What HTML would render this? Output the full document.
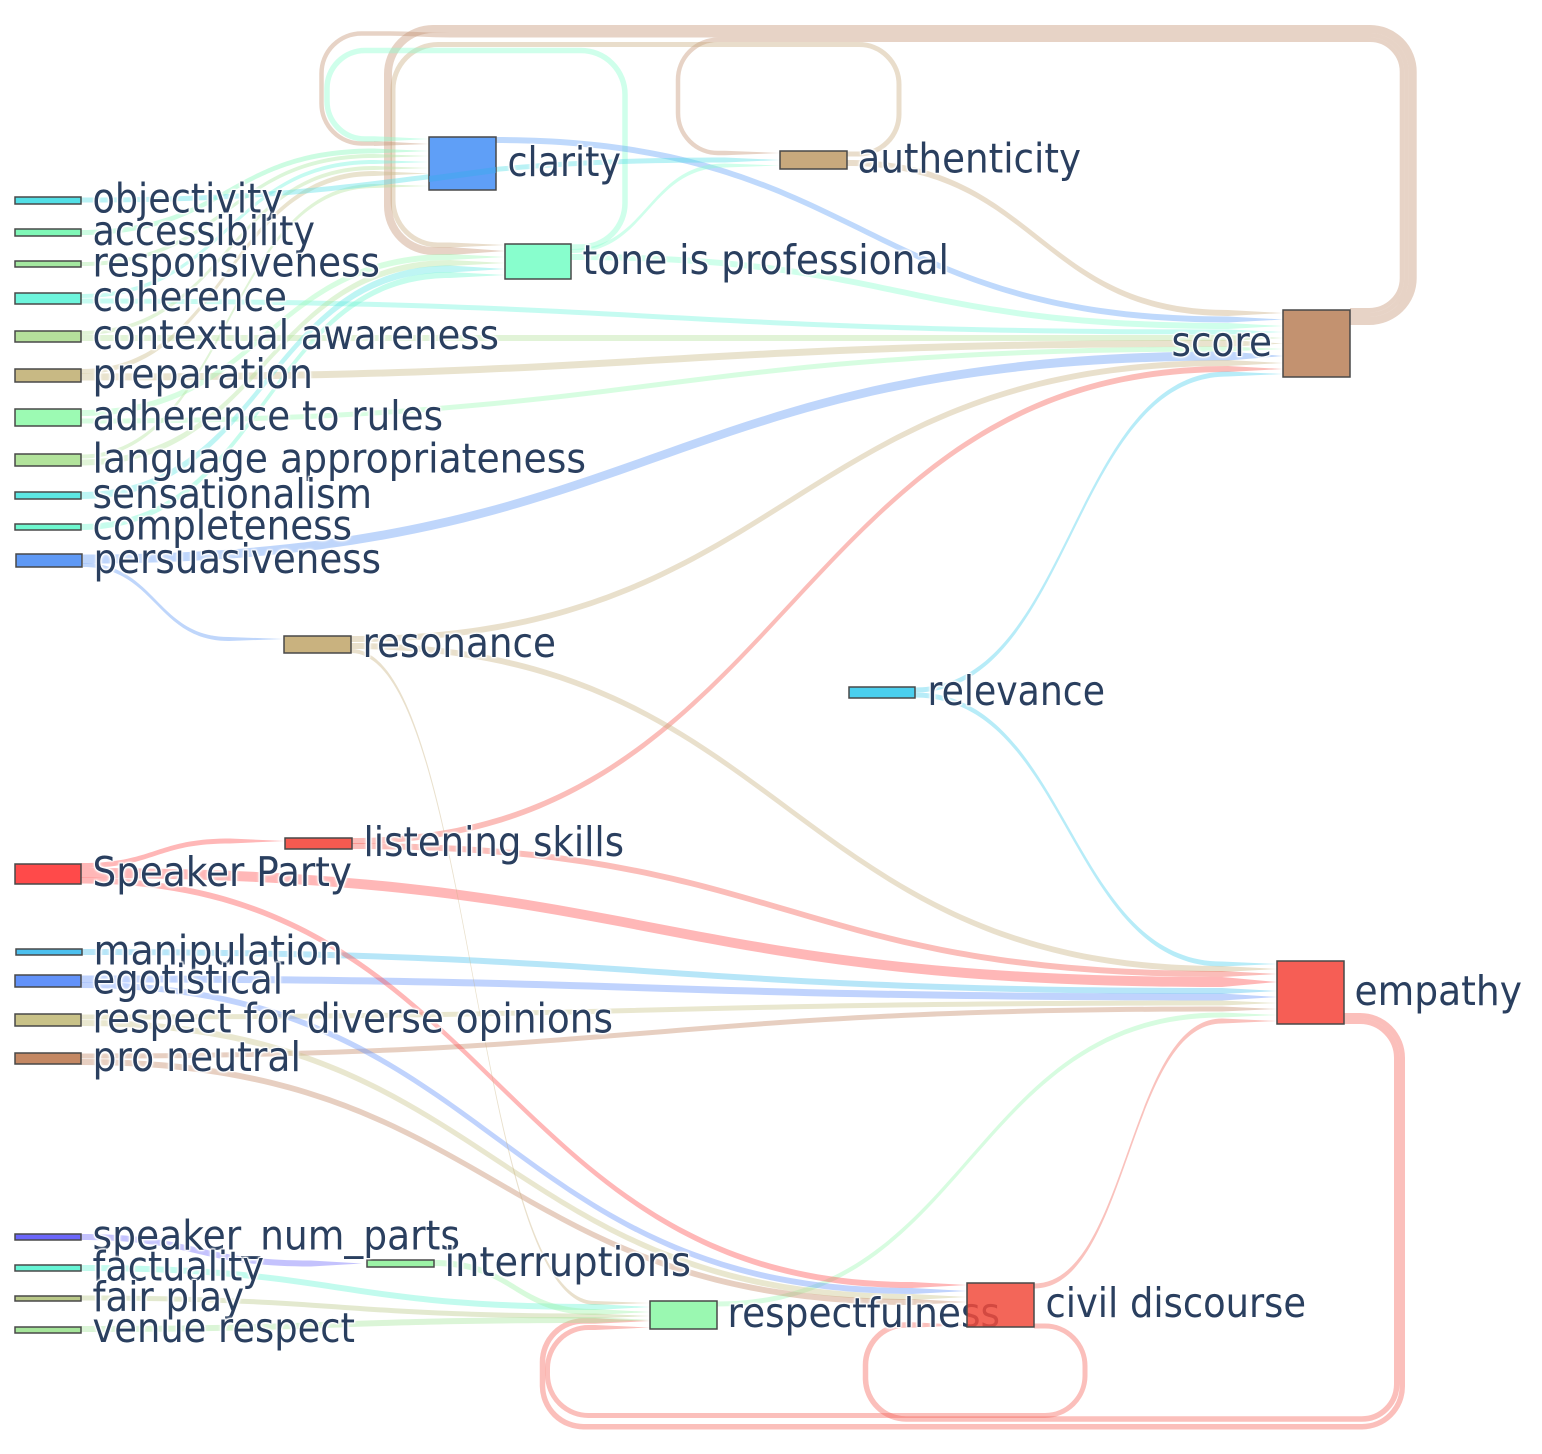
<!DOCTYPE html>
<html><head><meta charset="utf-8"><style>
html,body{margin:0;padding:0;background:#fff}
svg{display:block}
text{font-family:"DejaVu Sans","Liberation Sans",sans-serif;font-size:41px;fill:#2a3f5f;text-shadow:1px 1px 1px #fff,-1px -1px 1px #fff,1px -1px 1px #fff,-1px 1px 1px #fff,0 0 4px #fff,0 0 4px #fff}
.l{fill-opacity:.4}
.s{fill:none;stroke-opacity:.4}
rect{stroke:#484848;stroke-width:1.5}
</style></head><body>
<svg width="1542" height="1454" viewBox="0 0 1542 1454" xmlns="http://www.w3.org/2000/svg">
<!-- loops -->
<g class="s" stroke="#c39270">
<path stroke-width="8" d="M1350 321H1369A43.7 42.7 0 0 0 1412.7 278.3V71.7A42.7 42.7 0 0 0 1370 29H433A45 45 0 0 0 388 74V206A45 45 0 0 0 433 251H450"/>
<path stroke-width="4.5" d="M1350 314.75H1369A37.45 36.45 0 0 0 1406.45 278.3V71.7A36.45 36.45 0 0 0 1370 35.25H450C420 35.25 420 33.5 390 33.5H361.5A40 40 0 0 0 321.5 73.5V103.5A40 40 0 0 0 361.5 143.5H374"/>
<path stroke-width="4.5" d="M1350 310.25H1369A32.95 31.95 0 0 0 1401.95 278.3V71.7A31.95 31.95 0 0 0 1370 39.75H718A40 40 0 0 0 678 79.75V113A40 40 0 0 0 718 153H725"/>
</g>
<path class="s" stroke="#c8a97d" stroke-width="5" d="M847 154H859A40 40 0 0 0 899 114V84.5A40 40 0 0 0 859 44.5H438A45 45 0 0 0 393 89.5V200A45 45 0 0 0 438 245H450"/>
<path class="s" stroke="#88fecd" stroke-width="5.5" d="M571 247H581A44 44 0 0 0 625 203V94.5A44 44 0 0 0 581 50.5H365A38 38 0 0 0 327 88.5V101A38 38 0 0 0 365 139H374"/>
<g class="s" stroke="#f65e55">
<path stroke-width="5.5" d="M1344 1015.75H1360A42.25 42.25 0 0 1 1402.25 1058V1386.5A40.25 40.25 0 0 1 1362 1426.7H584A41 41 0 0 1 542.5 1386V1362A41 41 0 0 1 584 1321H595"/>
<path stroke-width="5.5" d="M1344 1021.25H1360A36.75 36.75 0 0 1 1396.75 1058V1384A35 35 0 0 1 1361.75 1419H906A41 41 0 0 1 865.5 1379V1365A40 40 0 0 1 906 1325H912"/>
<path stroke-width="5" d="M1034 1326H1045A40 40 0 0 1 1085 1366V1376A40 40 0 0 1 1045 1415.5H589A41 41 0 0 1 547.5 1375V1368A41 41 0 0 1 589 1327.5H595"/>
</g>
<!-- loop tips -->
<g class="l">
<path fill="#c39270" d="M450 247L505 251L450 255Z"/>
<path fill="#c39270" d="M374 141L429 144L374 146Z"/>
<path fill="#c39270" d="M725 150.75L780 153L725 155.25Z"/>
<path fill="#c8a97d" d="M450 242.5L505 245L450 247.5Z"/>
<path fill="#88fecd" d="M374 136.2L429 139L374 141.8Z"/>
<path fill="#f65e55" d="M595 1318.25L650 1321L595 1323.75Z"/>
<path fill="#f65e55" d="M912 1322.25L967 1325L912 1327.75Z"/>
<path fill="#f65e55" d="M595 1325L650 1327.5L595 1330Z"/>
</g>
<!-- to score -->
<g class="l">
<path fill="#c8a97d" d="M847 160C1037.5 160 1037.5 310 1228 310L1283 313L1228 316C1037.5 316 1037.5 166 847 166Z"/>
<path fill="#5f9ff7" d="M496 137C862 137 862 316.5 1228 316.5L1283 319.5L1228 322.5C862 322.5 862 143 496 143Z"/>
<path fill="#88fecd" d="M571 254C899.5 254 899.5 323 1228 323L1283 326L1228 329C899.5 329 899.5 260 571 260Z"/>
<path fill="#6df5dc" d="M81 298.5C654.5 298.5 654.5 329.5 1228 329.5L1283 332L1228 334.5C654.5 334.5 654.5 303.5 81 303.5Z"/>
<path fill="#b5e09b" d="M81 335C654.5 335 654.5 335 1228 335L1283 338L1228 341C654.5 341 654.5 341 81 341Z"/>
<path fill="#c8b984" d="M81 373.5C654.5 373.5 654.5 340 1228 340L1283 343.5L1228 347C654.5 347 654.5 380.5 81 380.5Z"/>
<path fill="#9cfab3" d="M81 418.5C654.5 418.5 654.5 346.5 1228 346.5L1283 349L1228 351.5C654.5 351.5 654.5 423.5 81 423.5Z"/>
<path fill="#5f99f5" d="M83 554.5C655.5 554.5 655.5 351.5 1228 351.5L1283 356L1228 360.5C655.5 360.5 655.5 563.5 83 563.5Z"/>
<path fill="#c9b27f" d="M351 636C789.5 636 789.5 360 1228 360L1283 363L1228 366C789.5 366 789.5 642 351 642Z"/>
<path fill="#f55a50" d="M352 838C790 838 790 366 1228 366L1283 369L1228 372C790 372 790 844 352 844Z"/>
<path fill="#4acfee" d="M915 687.5C1071.5 687.5 1071.5 371.5 1228 371.5L1283 374L1228 376.5C1071.5 376.5 1071.5 692.5 915 692.5Z"/>
</g>
<!-- to empathy -->
<g class="l">
<path fill="#4acfee" d="M915 692.5C1068.5 692.5 1068.5 961.5 1222 961.5L1277 964L1222 966.5C1068.5 966.5 1068.5 697.5 915 697.5Z"/>
<path fill="#c9b27f" d="M351 643C786.5 643 786.5 966 1222 966L1277 969L1222 972C786.5 972 786.5 649 351 649Z"/>
<path fill="#f55a50" d="M352 843C787 843 787 971 1222 971L1277 974L1222 977C787 977 787 849 352 849Z"/>
<path fill="#ff4a4a" d="M81 868C651.5 868 651.5 977 1222 977L1277 982L1222 987C651.5 987 651.5 878 81 878Z"/>
<path fill="#4cc0ee" d="M82 949C652 949 652 988 1222 988L1277 991L1222 994C652 994 652 955 82 955Z"/>
<path fill="#6292f9" d="M81 975.5C651.5 975.5 651.5 993.5 1222 993.5L1277 997L1222 1000.5C651.5 1000.5 651.5 982.5 81 982.5Z"/>
<path fill="#c9c288" d="M81 1014.5C651.5 1014.5 651.5 1000.5 1222 1000.5L1277 1003L1222 1005.5C651.5 1005.5 651.5 1019.5 81 1019.5Z"/>
<path fill="#c48863" d="M81 1053.5C651.5 1053.5 651.5 1006.5 1222 1006.5L1277 1009L1222 1011.5C651.5 1011.5 651.5 1058.5 81 1058.5Z"/>
<path fill="#9af8b1" d="M717 1301.5C969.5 1301.5 969.5 1012.5 1222 1012.5L1277 1015L1222 1017.5C969.5 1017.5 969.5 1306.5 717 1306.5Z"/>
<path fill="#f36659" d="M1034 1283.5C1128 1283.5 1128 1018.5 1222 1018.5L1277 1021L1222 1023.5C1128 1023.5 1128 1288.5 1034 1288.5Z"/>
</g>
<!-- to civil -->
<g class="l">
<path fill="#ff4a4a" d="M81 877.5C496.5 877.5 496.5 1282 912 1282L967 1285L912 1288C496.5 1288 496.5 883.5 81 883.5Z"/>
<path fill="#6292f9" d="M81 982C496.5 982 496.5 1288 912 1288L967 1291L912 1294C496.5 1294 496.5 988 81 988Z"/>
<path fill="#c9c288" d="M81 1020C496.5 1020 496.5 1294 912 1294L967 1297L912 1300C496.5 1300 496.5 1026 81 1026Z"/>
<path fill="#c48863" d="M81 1059C496.5 1059 496.5 1299 912 1299L967 1302L912 1305C496.5 1305 496.5 1065 81 1065Z"/>
</g>
<!-- to respectfulness & interruptions -->
<g class="l">
<path fill="#c9b27f" d="M351 649C473 649 473 1301 595 1301L650 1303L595 1305C473 1305 473 653 351 653Z"/>
<path fill="#66f5d5" d="M81 1265C338 1265 338 1304 595 1304L650 1307L595 1310C338 1310 338 1271 81 1271Z"/>
<path fill="#9cf3a6" d="M434 1260C514.5 1260 514.5 1309 595 1309L650 1312L595 1315C514.5 1315 514.5 1266 434 1266Z"/>
<path fill="#b9c888" d="M81 1295.5C338 1295.5 338 1313.5 595 1313.5L650 1316L595 1318.5C338 1318.5 338 1300.5 81 1300.5Z"/>
<path fill="#a5e59a" d="M81 1326C338 1326 338 1317 595 1317L650 1320L595 1323C338 1323 338 1332 81 1332Z"/>
<path fill="#6b66fa" d="M81 1234C196 1234 196 1260.5 311 1260.5L362 1263.5L311 1266.5C196 1266.5 196 1240 81 1240Z"/>
</g>
<!-- to tone -->
<g class="l">
<path fill="#9cfab3" d="M81 410C265.5 410 265.5 254 450 254L505 257L450 260C265.5 260 265.5 416 81 416Z"/>
<path fill="#b2e39b" d="M81 459.5C265.5 459.5 265.5 260 450 260L505 263L450 266C265.5 266 265.5 465.5 81 465.5Z"/>
<path fill="#5ce7e3" d="M81 492C265.5 492 265.5 265.5 450 265.5L505 269L450 272.5C265.5 272.5 265.5 499 81 499Z"/>
<path fill="#6ef8cf" d="M81 524C265.5 524 265.5 272 450 272L505 275L450 278C265.5 278 265.5 530 81 530Z"/>
</g>
<!-- to clarity -->
<g class="l">
<path fill="#80f7b7" d="M81 230C227.5 230 227.5 148.5 374 148.5L429 151L374 153.5C227.5 153.5 227.5 235 81 235Z"/>
<path fill="#a4e8a0" d="M81 262C227.5 262 227.5 154 374 154L429 156L374 158C227.5 158 227.5 266 81 266Z"/>
<path fill="#6df5dc" d="M81 294C227.5 294 227.5 160 374 160L429 162L374 164C227.5 164 227.5 298 81 298Z"/>
<path fill="#b5e09b" d="M81 331C227.5 331 227.5 166 374 166L429 168L374 170C227.5 170 227.5 335 81 335Z"/>
<path fill="#c8b984" d="M81 369C227.5 369 227.5 171 374 171L429 173.5L374 176C227.5 176 227.5 374 81 374Z"/>
<path fill="#b2e39b" d="M81 454.5C227.5 454.5 227.5 184 374 184L429 186L374 188C227.5 188 227.5 458.5 81 458.5Z"/>
</g>
<!-- to authenticity / resonance / listening -->
<g class="l">
<path fill="#52dfe6" d="M81 197.5C403 197.5 403 157.5 725 157.5L780 160L725 162.5C403 162.5 403 202.5 81 202.5Z"/>
<path fill="#88fecd" d="M571 249C648 249 648 163.5 725 163.5L780 165.5L725 167.5C648 167.5 648 253 571 253Z"/>
<path fill="#5f99f5" d="M83 563C156 563 156 637 229 637L284 639L229 641C156 641 156 567 83 567Z"/>
<path fill="#ff4a4a" d="M81 863C155.5 863 155.5 838.5 230 838.5L285 841L230 843.5C155.5 843.5 155.5 868 81 868Z"/>
</g>
<!-- nodes -->
<rect x="15" y="197" width="66" height="7" fill="#52dfe6"/>
<rect x="15" y="229" width="66" height="7" fill="#80f7b7"/>
<rect x="15" y="261" width="66" height="6" fill="#a4e8a0"/>
<rect x="15" y="293" width="66" height="11" fill="#6df5dc"/>
<rect x="15" y="331" width="66" height="11" fill="#b5e09b"/>
<rect x="15" y="369" width="66" height="13" fill="#c8b984"/>
<rect x="15" y="409" width="66" height="17" fill="#9cfab3"/>
<rect x="15" y="454" width="66" height="12" fill="#b2e39b"/>
<rect x="15" y="492" width="66" height="7" fill="#5ce7e3"/>
<rect x="15" y="524" width="66" height="6" fill="#6ef8cf"/>
<rect x="16" y="554" width="66" height="13" fill="#5f99f5"/>
<rect x="284" y="636" width="67" height="17" fill="#c9b27f"/>
<rect x="285" y="838" width="67" height="11" fill="#f55a50"/>
<rect x="15" y="864" width="66" height="20" fill="#ff4a4a"/>
<rect x="16" y="949" width="66" height="6" fill="#4cc0ee"/>
<rect x="15" y="975" width="66" height="12" fill="#6292f9"/>
<rect x="15" y="1014" width="66" height="12" fill="#c9c288"/>
<rect x="15" y="1053" width="66" height="11" fill="#c48863"/>
<rect x="15" y="1234" width="66" height="6" fill="#6b66fa"/>
<rect x="15" y="1265" width="66" height="6" fill="#66f5d5"/>
<rect x="15" y="1296" width="66" height="5" fill="#b9c888"/>
<rect x="15" y="1327" width="66" height="6" fill="#a5e59a"/>
<rect x="367" y="1260" width="67" height="7" fill="#9cf3a6"/>
<rect x="650" y="1301" width="67" height="28" fill="#9af8b1"/>
<rect x="429" y="137" width="67" height="53" fill="#5f9ff7"/>
<rect x="505" y="244" width="66" height="35" fill="#88fecd"/>
<rect x="780" y="151" width="67" height="18" fill="#c8a97d"/>
<rect x="1283" y="310" width="67" height="67" fill="#c39270"/>
<rect x="1277" y="961" width="67" height="63" fill="#f65e55"/>
<rect x="849" y="687" width="66" height="11" fill="#4acfee"/>
<path d="M429 176L496 167V173L429 182Z" fill="#3fa8ee" fill-opacity=".55"/>
<!-- labels -->
<text x="92.5" y="212.5" textLength="190.5" lengthAdjust="spacingAndGlyphs">objectivity</text>
<text x="92.5" y="245" textLength="222.5" lengthAdjust="spacingAndGlyphs">accessibility</text>
<text x="92.5" y="276.5" textLength="287.5" lengthAdjust="spacingAndGlyphs">responsiveness</text>
<text x="92.5" y="311" textLength="194.5" lengthAdjust="spacingAndGlyphs">coherence</text>
<text x="92.5" y="349" textLength="406.5" lengthAdjust="spacingAndGlyphs">contextual awareness</text>
<text x="92.5" y="388" textLength="220.5" lengthAdjust="spacingAndGlyphs">preparation</text>
<text x="92.5" y="430" textLength="350.5" lengthAdjust="spacingAndGlyphs">adherence to rules</text>
<text x="92.5" y="472.5" textLength="493.5" lengthAdjust="spacingAndGlyphs">language appropriateness</text>
<text x="92.5" y="508" textLength="279.5" lengthAdjust="spacingAndGlyphs">sensationalism</text>
<text x="92.5" y="539.5" textLength="259.5" lengthAdjust="spacingAndGlyphs">completeness</text>
<text x="93.5" y="573" textLength="287.5" lengthAdjust="spacingAndGlyphs">persuasiveness</text>
<text x="362.5" y="657" textLength="193.5" lengthAdjust="spacingAndGlyphs">resonance</text>
<text x="363.5" y="856" textLength="260.5" lengthAdjust="spacingAndGlyphs">listening skills</text>
<text x="92.5" y="886" textLength="259.5" lengthAdjust="spacingAndGlyphs">Speaker Party</text>
<text x="93.5" y="964.5" textLength="249.5" lengthAdjust="spacingAndGlyphs">manipulation</text>
<text x="92.5" y="993.5" textLength="190.5" lengthAdjust="spacingAndGlyphs">egotistical</text>
<text x="92.5" y="1032.5" textLength="520.5" lengthAdjust="spacingAndGlyphs">respect for diverse opinions</text>
<text x="92.5" y="1071" textLength="208.5" lengthAdjust="spacingAndGlyphs">pro neutral</text>
<text x="92.5" y="1249.5" textLength="367.5" lengthAdjust="spacingAndGlyphs">speaker_num_parts</text>
<text x="92.5" y="1280.5" textLength="171.5" lengthAdjust="spacingAndGlyphs">factuality</text>
<text x="92.5" y="1311" textLength="151.5" lengthAdjust="spacingAndGlyphs">fair play</text>
<text x="92.5" y="1342" textLength="262.5" lengthAdjust="spacingAndGlyphs">venue respect</text>
<text x="444.5" y="1276" textLength="246.5" lengthAdjust="spacingAndGlyphs">interruptions</text>
<text x="727.5" y="1327" textLength="272.5" lengthAdjust="spacingAndGlyphs">respectfulness</text>
<text x="1045.5" y="1317" textLength="260.5" lengthAdjust="spacingAndGlyphs">civil discourse</text>
<text x="507.5" y="176" textLength="113.5" lengthAdjust="spacingAndGlyphs">clarity</text>
<text x="582.5" y="274" textLength="366.5" lengthAdjust="spacingAndGlyphs">tone is professional</text>
<text x="857.5" y="172.5" textLength="223.5" lengthAdjust="spacingAndGlyphs">authenticity</text>
<text x="1171.5" y="356" textLength="100.5" lengthAdjust="spacingAndGlyphs">score</text>
<text x="1354.5" y="1005" textLength="167.5" lengthAdjust="spacingAndGlyphs">empathy</text>
<text x="927.5" y="705" textLength="177.5" lengthAdjust="spacingAndGlyphs">relevance</text>
<rect x="967" y="1283" width="67" height="44" fill="#f14b3c" fill-opacity=".85"/>
</svg>
</body></html>
